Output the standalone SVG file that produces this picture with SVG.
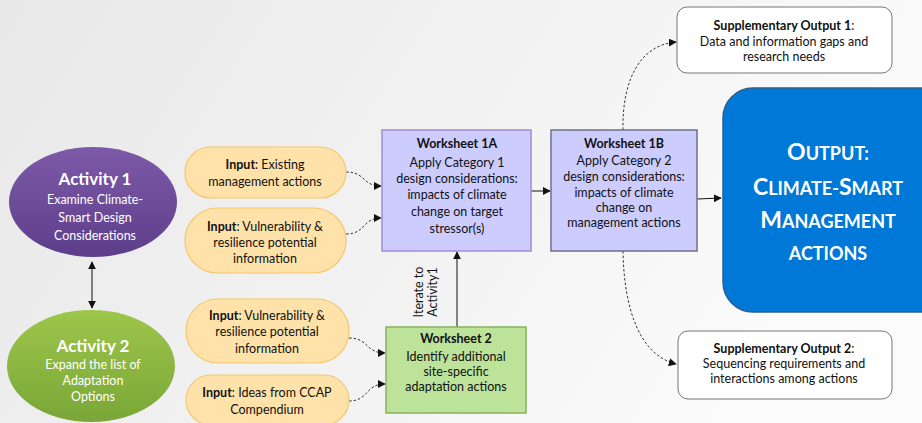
<svg xmlns="http://www.w3.org/2000/svg" width="922" height="423" viewBox="0 0 922 423">
  <defs>
    <linearGradient id="bg" x1="0" y1="0" x2="1" y2="0.3">
      <stop offset="0" stop-color="#e8e8e8"/>
      <stop offset="0.6" stop-color="#f3f3f3"/>
      <stop offset="1" stop-color="#fbfbfb"/>
    </linearGradient>
    <linearGradient id="purple" x1="0" y1="0" x2="0" y2="1">
      <stop offset="0" stop-color="#7d5aa8"/>
      <stop offset="1" stop-color="#5d3e8a"/>
    </linearGradient>
    <linearGradient id="green" x1="0" y1="0" x2="0" y2="1">
      <stop offset="0" stop-color="#9dc64b"/>
      <stop offset="1" stop-color="#79a637"/>
    </linearGradient>
    <marker id="arrow" viewBox="0 0 10 10" refX="9" refY="5" markerWidth="8" markerHeight="8" markerUnits="userSpaceOnUse" orient="auto-start-reverse">
      <path d="M0,0 L10,5 L0,10 z" fill="#111"/>
    </marker>
    <style>
      text { font-family: Lato, "Open Sans", "Liberation Sans", sans-serif; text-anchor: middle; }
      .act-title { font-size: 17px; font-weight: bold; fill: #fff; }
      .act-sub { font-size: 12.5px; fill: #fff; }
      .pill { fill: #ffe2a9; stroke: #f3c76c; stroke-width: 1.2; }
      .pill-text { font-size: 12.5px; fill: #111; }
      .ws-a { fill: #ccccff; stroke: #a58ad4; stroke-width: 1.5; }
      .ws-b { fill: #ccccff; stroke: #6f6f8a; stroke-width: 1.5; }
      .ws-2 { fill: #bde29a; stroke: #86b25a; stroke-width: 1.5; }
      .ws-text { font-size: 12.5px; fill: #111; }
      .sup { fill: #fff; stroke: #777; stroke-width: 1; }
      .sup-text { font-size: 12.5px; fill: #111; }
      .out { fill: #0078d7; stroke: #2d5f8f; stroke-width: 1.5; }
      .out-text { font-weight: bold; fill: #fff; }
      .cap { font-size: 23px; }
      .sc { font-size: 18px; }
      .solid { fill: none; stroke: #111; stroke-width: 1; }
      .dash { fill: none; stroke: #333; stroke-width: 1; stroke-dasharray: 2.5 2; }
      .label { font-size: 12.5px; fill: #111; }
    </style>
  </defs>

  <rect width="922" height="423" fill="url(#bg)"/>

  <!-- Connectors -->
  <g id="connectors">
    <line class="solid" x1="92" y1="262" x2="92" y2="308" marker-start="url(#arrow)" marker-end="url(#arrow)"/>
    <path class="dash" d="M346,172 C366,172 362,186 381,186" marker-end="url(#arrow)"/>
    <path class="dash" d="M346,234 C366,234 362,218 381,218" marker-end="url(#arrow)"/>
    <path class="dash" d="M349,338 C369,338 365,353 385,353" marker-end="url(#arrow)"/>
    <path class="dash" d="M349,401 C369,401 365,384 385,384" marker-end="url(#arrow)"/>
    <line class="solid" x1="531" y1="191" x2="550" y2="191" marker-end="url(#arrow)"/>
    <line class="solid" x1="697" y1="199" x2="721" y2="198" marker-end="url(#arrow)"/>
    <line class="solid" x1="457" y1="327" x2="457" y2="252" marker-end="url(#arrow)"/>
    <text class="label" transform="translate(423,292) rotate(-90)">Iterate to</text>
    <text class="label" transform="translate(437,292) rotate(-90)">Activity1</text>
    <path class="dash" d="M623,130 C622,80 640,45 676,42" marker-end="url(#arrow)"/>
    <path class="dash" d="M623,251 C624,310 640,355 676,364" marker-end="url(#arrow)"/>
  </g>

  <!-- Activity 1 -->
  <g id="activity1">
    <ellipse cx="93" cy="202" rx="84" ry="55" fill="url(#purple)"/>
    <text class="act-title" x="95" y="185">Activity 1</text>
    <text class="act-sub" x="95" y="204">Examine Climate-</text>
    <text class="act-sub" x="95" y="222">Smart Design</text>
    <text class="act-sub" x="95" y="240">Considerations</text>
  </g>

  <!-- Activity 2 -->
  <g id="activity2">
    <ellipse cx="91" cy="366" rx="84" ry="56" fill="url(#green)"/>
    <text class="act-title" x="93" y="352">Activity 2</text>
    <text class="act-sub" x="93" y="369">Expand the list of</text>
    <text class="act-sub" x="93" y="385">Adaptation</text>
    <text class="act-sub" x="93" y="401">Options</text>
  </g>

  <!-- Inputs -->
  <g id="input-existing">
    <rect class="pill" x="185" y="147" width="161" height="51" rx="25.5"/>
    <text class="pill-text" x="265" y="169"><tspan font-weight="bold">Input</tspan>: Existing</text>
    <text class="pill-text" x="265" y="186">management actions</text>
  </g>
  <g id="input-vulnerability-1">
    <rect class="pill" x="185" y="208" width="161" height="65" rx="32.5"/>
    <text class="pill-text" x="265" y="231"><tspan font-weight="bold">Input</tspan>: Vulnerability &amp;</text>
    <text class="pill-text" x="265" y="247">resilience potential</text>
    <text class="pill-text" x="265" y="263">information</text>
  </g>
  <g id="input-vulnerability-2">
    <rect class="pill" x="186" y="299" width="163" height="64" rx="32"/>
    <text class="pill-text" x="267" y="320"><tspan font-weight="bold">Input</tspan>: Vulnerability &amp;</text>
    <text class="pill-text" x="267" y="336">resilience potential</text>
    <text class="pill-text" x="267" y="353">information</text>
  </g>
  <g id="input-ccap">
    <rect class="pill" x="186" y="375" width="163" height="50" rx="25"/>
    <text class="pill-text" x="267" y="397"><tspan font-weight="bold">Input</tspan>: Ideas from CCAP</text>
    <text class="pill-text" x="267" y="414">Compendium</text>
  </g>

  <!-- Worksheet 1A -->
  <g id="worksheet-1a">
    <rect class="ws-a" x="382" y="130" width="149" height="121"/>
    <text class="ws-text" x="457" y="148" font-weight="bold">Worksheet 1A</text>
    <text class="ws-text" x="457" y="167">Apply Category 1</text>
    <text class="ws-text" x="457" y="183">design considerations:</text>
    <text class="ws-text" x="457" y="199">impacts of climate</text>
    <text class="ws-text" x="457" y="216">change on target</text>
    <text class="ws-text" x="457" y="233">stressor(s)</text>
  </g>

  <!-- Worksheet 1B -->
  <g id="worksheet-1b">
    <rect class="ws-b" x="551" y="130" width="146" height="121"/>
    <text class="ws-text" x="624" y="148" font-weight="bold">Worksheet 1B</text>
    <text class="ws-text" x="624" y="165">Apply Category 2</text>
    <text class="ws-text" x="624" y="181">design considerations:</text>
    <text class="ws-text" x="624" y="197">impacts of climate</text>
    <text class="ws-text" x="624" y="212">change on</text>
    <text class="ws-text" x="624" y="227">management actions</text>
  </g>

  <!-- Worksheet 2 -->
  <g id="worksheet-2">
    <rect class="ws-2" x="386" y="327" width="140" height="86"/>
    <text class="ws-text" x="456" y="343" font-weight="bold">Worksheet 2</text>
    <text class="ws-text" x="456" y="361">Identify additional</text>
    <text class="ws-text" x="456" y="376">site-specific</text>
    <text class="ws-text" x="456" y="391">adaptation actions</text>
  </g>

  <!-- Main output: small-caps heading built from two type sizes -->
  <g id="output">
    <rect class="out" x="723" y="88" width="230" height="224" rx="30"/>
    <text class="out-text" x="828" y="160"><tspan class="cap">O</tspan><tspan class="sc">UTPUT:</tspan></text>
    <text class="out-text" x="828" y="195"><tspan class="cap">C</tspan><tspan class="sc">LIMATE-</tspan><tspan class="cap">S</tspan><tspan class="sc">MART</tspan></text>
    <text class="out-text" x="828" y="228"><tspan class="cap">M</tspan><tspan class="sc">ANAGEMENT</tspan></text>
    <text class="out-text sc" x="828" y="260">ACTIONS</text>
  </g>

  <!-- Supplementary outputs -->
  <g id="supplementary-1">
    <rect class="sup" x="677" y="7" width="215" height="66" rx="10"/>
    <text class="sup-text" x="784" y="30"><tspan font-weight="bold">Supplementary Output 1</tspan>:</text>
    <text class="sup-text" x="784" y="46">Data and information gaps and</text>
    <text class="sup-text" x="784" y="61">research needs</text>
  </g>
  <g id="supplementary-2">
    <rect class="sup" x="678" y="331" width="214" height="68" rx="10"/>
    <text class="sup-text" x="784" y="353"><tspan font-weight="bold">Supplementary Output 2</tspan>:</text>
    <text class="sup-text" x="784" y="368">Sequencing requirements and</text>
    <text class="sup-text" x="784" y="383">interactions among actions</text>
  </g>
</svg>
